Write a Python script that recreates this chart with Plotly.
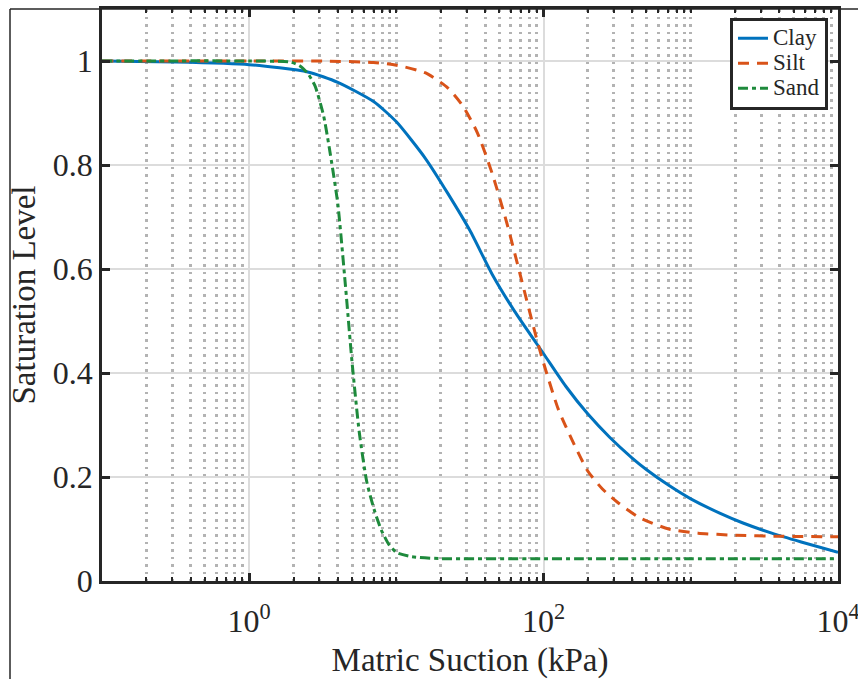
import plotly.graph_objects as go

# Soil-water retention data: matric suction (kPa) vs. saturation level
suction_clay = [0.1, 0.316, 1, 2.5, 4, 7, 10, 15.8, 22.4, 31.6, 44.7, 63.1, 100, 141, 200,
                282, 398, 501, 708, 1000, 1585, 2239, 3548, 5623, 10000]
sat_clay = [1.0, 0.998, 0.993, 0.979, 0.959, 0.922, 0.883, 0.812, 0.745, 0.674, 0.59, 0.52,
            0.437, 0.375, 0.321, 0.276, 0.237, 0.214, 0.184, 0.158, 0.13, 0.112, 0.092,
            0.075, 0.055]

suction_silt = [0.1, 1, 3.16, 7, 10, 15.8, 22.4, 28.2, 35.5, 44.7, 56.2, 70.8, 89.1, 100, 126,
                158, 200, 251, 316, 447, 708, 1122, 2000, 3981, 10000]
sat_silt = [1.0, 1.0, 1.0, 0.997, 0.992, 0.977, 0.948, 0.914, 0.862, 0.784, 0.689, 0.579,
            0.469, 0.419, 0.33, 0.268, 0.211, 0.177, 0.152, 0.122, 0.1, 0.092, 0.088, 0.086,
            0.085]

suction_sand = [0.1, 1, 1.9, 2.2, 2.5, 2.8, 3.2, 3.5, 4.0, 4.5, 5.0, 5.6, 6.3, 7.1, 7.9, 8.9,
                10, 12.6, 20, 100, 1000, 10000]
sat_sand = [1.0, 1.0, 0.998, 0.991, 0.976, 0.952, 0.895, 0.833, 0.725, 0.57, 0.42, 0.285, 0.19,
            0.135, 0.098, 0.07, 0.055, 0.047, 0.043, 0.043, 0.043, 0.043]

x_major = [1, 100, 10000]
x_major_text = ["10<sup>0</sup>", "10<sup>2</sup>", "10<sup>4</sup>"]
x_minor = ([m * 0.1 for m in range(2, 10)] + list(range(2, 10)) + [10] +
           [m * 10 for m in range(2, 10)] + [m * 100 for m in range(2, 10)] + [1000] +
           [m * 1000 for m in range(2, 10)])
y_ticks = [0, 0.2, 0.4, 0.6, 0.8, 1]
y_tick_text = ["0", "0.2", "0.4", "0.6", "0.8", "1"]

FONT = "Liberation Serif, Times New Roman, serif"
AX = "#262626"


def legend_label(text):
    # larger glyphs than the legend's base font, keeping rows compact
    return f"<span style='font-size:23px'>{text}</span>"


fig = go.Figure()
fig.add_trace(go.Scatter(x=suction_clay, y=sat_clay, name=legend_label("Clay"), mode="lines",
                         line=dict(color="#0072BD", width=3, shape="spline", smoothing=0.6)))
fig.add_trace(go.Scatter(x=suction_silt, y=sat_silt, name=legend_label("Silt"), mode="lines",
                         line=dict(color="#D95319", width=3, dash="11px,8px",
                                   shape="spline", smoothing=0.6)))
fig.add_trace(go.Scatter(x=suction_sand, y=sat_sand, name=legend_label("Sand"), mode="lines",
                         line=dict(color="#1E8A3C", width=3, dash="10px,4px,4px,4px",
                                   shape="spline", smoothing=0.6)))

fig.update_layout(
    width=858, height=679,
    margin=dict(l=102, r=20, t=9, b=98, autoexpand=False),
    paper_bgcolor="white", plot_bgcolor="white",
    font=dict(family=FONT, color=AX),
    showlegend=True,
    legend=dict(x=0.9864, y=0.985, xanchor="right", yanchor="top",
                bgcolor="white", bordercolor=AX, borderwidth=3,
                font=dict(family=FONT, size=17, color=AX),
                tracegroupgap=0, itemwidth=30),
    xaxis=dict(
        type="log", range=[-1, 4], automargin=False,
        tickmode="array", tickvals=x_major, ticktext=x_major_text,
        tickfont=dict(family=FONT, size=32, color=AX),
        ticklabeloverflow="allow", ticklabelstandoff=10,
        ticks="inside", ticklen=8, tickwidth=2.5, tickcolor=AX,
        showline=True, linecolor=AX, linewidth=2.5, mirror="allticks",
        showgrid=True, gridcolor="#dcdcdc", gridwidth=2,
        minor=dict(tickmode="array", tickvals=x_minor, ticks="inside", ticklen=4,
                   tickwidth=2, tickcolor=AX, showgrid=True, gridcolor="#b3b3b3",
                   gridwidth=2.5, griddash="2.5px,5px"),
        zeroline=False,
        title=dict(text="Matric Suction (kPa)", font=dict(family=FONT, size=33, color=AX),
                   standoff=16),
    ),
    yaxis=dict(
        range=[0, 1.1], automargin=False,
        tickmode="array", tickvals=y_ticks, ticktext=y_tick_text,
        tickfont=dict(family=FONT, size=32, color=AX),
        ticks="inside", ticklen=8, tickwidth=2.5, tickcolor=AX,
        showline=True, linecolor=AX, linewidth=2.5, mirror="allticks",
        showgrid=True, gridcolor="#dcdcdc", gridwidth=2,
        zeroline=False,
        title=dict(text="Saturation Level", font=dict(family=FONT, size=33, color=AX),
                   standoff=8),
    ),
    shapes=[
        dict(type="line", xref="paper", yref="paper", x0=-0.125, x1=1.03, y0=1.0, y1=1.0,
             line=dict(color=AX, width=1.5), layer="above"),
        dict(type="line", xref="paper", yref="paper", x0=-0.125, x1=-0.125, y0=1.0, y1=-0.2,
             line=dict(color=AX, width=1.5), layer="above"),
    ],
)

fig.write_html("out.html")
